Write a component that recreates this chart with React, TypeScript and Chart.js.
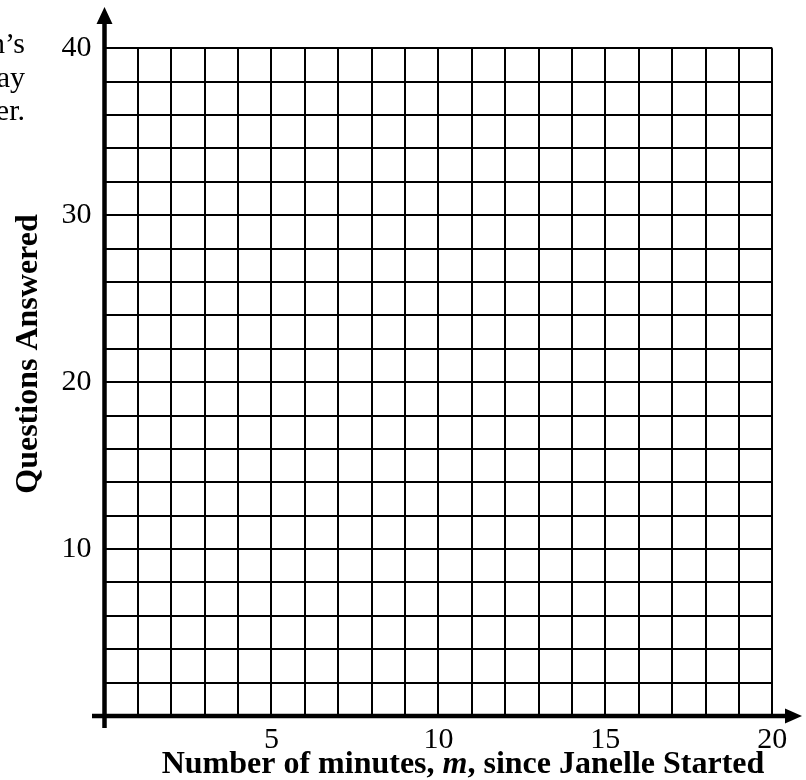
import React, { useEffect, useRef } from "react";
import { Chart, registerables } from "chart.js";

Chart.register(...registerables);

// ---- data ----
const X_MIN = 0;
const X_MAX = 20;
const X_GRID_STEP = 1;
const X_TICK_LABELS = [5, 10, 15, 20];

const Y_MIN = 0;
const Y_MAX = 40;
const Y_GRID_STEP = 2;
const Y_TICK_LABELS = [10, 20, 30, 40];

const X_TITLE_PARTS = [
  { text: "Number of minutes, ", italic: false },
  { text: "m", italic: true },
  { text: ", since Janelle Started", italic: false },
];
const Y_TITLE = "Questions Answered";
const SIDE_TEXT = ["n\u2019s", "ay", "er."];

const SERIF = '"Liberation Serif", "Times New Roman", serif';

const decorPlugin = {
  id: "decor",
  afterDraw(chart: any) {
    const ctx = chart.ctx as CanvasRenderingContext2D;
    const xs = chart.scales.x;
    const ys = chart.scales.y;
    const x0 = xs.getPixelForValue(0);
    const y0 = ys.getPixelForValue(0);
    ctx.save();
    ctx.fillStyle = "#000";
    ctx.strokeStyle = "#000";
    ctx.lineWidth = 4.5;
    ctx.lineCap = "butt";
    // y axis
    ctx.beginPath();
    ctx.moveTo(x0, 728);
    ctx.lineTo(x0, 20);
    ctx.stroke();
    ctx.beginPath();
    ctx.moveTo(x0, 7);
    ctx.lineTo(x0 - 8, 24);
    ctx.lineTo(x0 + 8, 24);
    ctx.closePath();
    ctx.fill();
    // x axis
    ctx.beginPath();
    ctx.moveTo(92, y0);
    ctx.lineTo(789, y0);
    ctx.stroke();
    ctx.beginPath();
    ctx.moveTo(802, y0);
    ctx.lineTo(785, y0 - 7.5);
    ctx.lineTo(785, y0 + 7.5);
    ctx.closePath();
    ctx.fill();

    // x title
    const normal = `bold 32px ${SERIF}`;
    const ital = `italic bold 32px ${SERIF}`;
    let total = 0;
    for (const p of X_TITLE_PARTS) {
      ctx.font = p.italic ? ital : normal;
      total += ctx.measureText(p.text).width;
    }
    let cx = 463 - total / 2;
    ctx.textBaseline = "alphabetic";
    ctx.textAlign = "left";
    for (const p of X_TITLE_PARTS) {
      ctx.font = p.italic ? ital : normal;
      ctx.fillText(p.text, cx, 773);
      cx += ctx.measureText(p.text).width;
    }

    // y title
    ctx.save();
    ctx.translate(37, 354);
    ctx.rotate(-Math.PI / 2);
    ctx.font = normal;
    ctx.textAlign = "center";
    ctx.fillText(Y_TITLE, 0, 0);
    ctx.restore();

    // cut-off side text
    ctx.font = `30px ${SERIF}`;
    ctx.textAlign = "right";
    const baselines = [53, 87, 120];
    SIDE_TEXT.forEach((t, i) => ctx.fillText(t, 25, baselines[i]));
    ctx.restore();
  },
};

export default function App() {
  const ref = useRef<HTMLCanvasElement | null>(null);
  useEffect(() => {
    if (!ref.current) return;
    const chart = new Chart(ref.current, {
      type: "scatter",
      data: { datasets: [{ data: [], showLine: false }] },
      options: {
        animation: false,
        responsive: false,
        maintainAspectRatio: false,
        layout: { padding: { left: 0, top: 48.3, right: 806 - 772.3, bottom: 0 } },
        plugins: { legend: { display: false }, tooltip: { enabled: false } },
        scales: {
          x: {
            type: "linear",
            min: X_MIN,
            max: X_MAX,
            afterFit: (s: any) => {
              s.height = 64;
            },
            border: { display: false },
            grid: { color: "#000", lineWidth: 2, drawTicks: false },
            ticks: {
              stepSize: X_GRID_STEP,
              autoSkip: false,
              maxRotation: 0,
              padding: 6,
              color: "#000",
              font: { family: SERIF, size: 30 },
              callback: (v: any) => (X_TICK_LABELS.includes(Number(v)) ? String(v) : ""),
            },
          },
          y: {
            type: "linear",
            min: Y_MIN,
            max: Y_MAX,
            afterFit: (s: any) => {
              s.width = 104.5;
            },
            border: { display: false },
            grid: { color: "#000", lineWidth: 2, drawTicks: false },
            ticks: {
              stepSize: Y_GRID_STEP,
              autoSkip: false,
              padding: 13,
              color: "#000",
              font: { family: SERIF, size: 30 },
              callback: (v: any) => (Y_TICK_LABELS.includes(Number(v)) ? String(v) : ""),
            },
          },
        },
      },
      plugins: [decorPlugin],
    });
    return () => chart.destroy();
  }, []);
  return (
    <div style={{ position: "absolute", left: 0, top: 0, width: 806, height: 780, background: "#fff" }}>
      <canvas ref={ref} width={806} height={780} style={{ display: "block", width: 806, height: 780 }} />
    </div>
  );
}
